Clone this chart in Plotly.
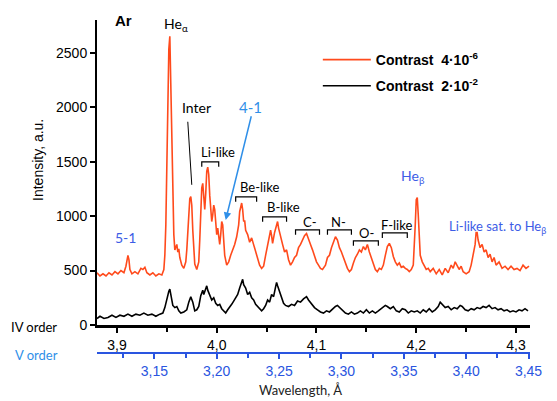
import plotly.graph_objects as go

# ---------------- data ----------------
# Wavelength in Angstrom (IV order scale) and intensity (a.u.)
wl_hi = [3.880, 3.883, 3.886, 3.889, 3.892, 3.895, 3.898, 3.901, 3.904, 3.907,
         3.909, 3.910, 3.911, 3.912, 3.913, 3.915, 3.918, 3.921, 3.924, 3.926,
         3.928, 3.930, 3.933, 3.936, 3.939, 3.942, 3.945, 3.947, 3.948, 3.949,
         3.950, 3.951, 3.952, 3.953, 3.954, 3.955, 3.956, 3.957, 3.958, 3.959,
         3.960, 3.961, 3.962, 3.963, 3.965, 3.967, 3.969, 3.970, 3.971, 3.972,
         3.973, 3.974, 3.975, 3.976, 3.977, 3.978, 3.980, 3.982, 3.983, 3.984,
         3.985, 3.986, 3.987, 3.988, 3.989, 3.990, 3.991, 3.992, 3.993, 3.994,
         3.995, 3.996, 3.997, 3.998, 3.999, 4.000, 4.001, 4.002, 4.003, 4.004,
         4.005, 4.006, 4.007, 4.008, 4.010, 4.012, 4.014, 4.016, 4.018, 4.020,
         4.022, 4.023, 4.024, 4.025, 4.026, 4.027, 4.028, 4.029, 4.031, 4.033,
         4.035, 4.037, 4.039, 4.041, 4.043, 4.045, 4.047, 4.049, 4.051, 4.053,
         4.054, 4.055, 4.056, 4.058, 4.060, 4.061, 4.062, 4.064, 4.066, 4.068,
         4.070, 4.072, 4.074, 4.076, 4.078, 4.080, 4.082, 4.084, 4.086, 4.088,
         4.090, 4.092, 4.094, 4.096, 4.098, 4.100, 4.102, 4.104, 4.106, 4.109,
         4.111, 4.113, 4.115, 4.117, 4.119, 4.121, 4.123, 4.125, 4.127, 4.129,
         4.131, 4.133, 4.135, 4.137, 4.139, 4.141, 4.143, 4.145, 4.147, 4.149,
         4.151, 4.153, 4.155, 4.157, 4.159, 4.161, 4.163, 4.165, 4.167, 4.169,
         4.171, 4.173, 4.175, 4.177, 4.179, 4.181, 4.183, 4.185, 4.187, 4.189,
         4.191, 4.193, 4.195, 4.197, 4.198, 4.199, 4.200, 4.201, 4.202, 4.203,
         4.204, 4.206, 4.208, 4.210, 4.212, 4.214, 4.217, 4.220, 4.223, 4.226,
         4.229, 4.232, 4.235, 4.237, 4.239, 4.241, 4.243, 4.245, 4.247, 4.250,
         4.253, 4.255, 4.257, 4.259, 4.260, 4.261, 4.262, 4.264, 4.266, 4.268,
         4.270, 4.272, 4.274, 4.276, 4.278, 4.280, 4.283, 4.286, 4.289, 4.292,
         4.295, 4.298, 4.301, 4.304, 4.307, 4.310, 4.313]
int_hi = [480, 450, 470, 450, 480, 460, 490, 470, 500, 480,
          540, 620, 640, 600, 510, 470, 490, 470, 520, 510,
          530, 480, 460, 480, 450, 470, 460, 510, 640, 920,
          1420, 2070, 2530, 2650, 2160, 1700, 1150, 830, 690, 720,
          740, 670, 700, 620, 550, 520, 580, 690, 850, 1060,
          1160, 1180, 1100, 870, 670, 560, 510, 580, 780, 1100,
          1260, 1300, 1190, 1060, 1210, 1410, 1450, 1380, 1190, 1010,
          950, 1010, 1100, 1060, 890, 830, 890, 780, 740, 830,
          950, 920, 780, 640, 550, 580, 640, 690, 740, 810,
          920, 1040, 1100, 1120, 1060, 950, 960, 870, 830, 760,
          800, 740, 670, 620, 550, 520, 540, 640, 730, 800,
          870, 820, 750, 850, 920, 950, 890, 800, 740, 670,
          690, 600, 550, 580, 620, 640, 710, 740, 780, 820,
          840, 780, 740, 690, 640, 580, 550, 520, 510, 550,
          620, 640, 710, 760, 810, 780, 710, 670, 620, 570,
          520, 490, 510, 570, 620, 650, 690, 670, 720, 690,
          740, 670, 620, 570, 510, 490, 520, 510, 550, 640,
          720, 750, 710, 630, 580, 550, 570, 530, 540, 520,
          510, 490, 510, 550, 690, 920, 1150, 1170, 1010, 780,
          640, 580, 540, 510, 520, 490, 520, 470, 510, 460,
          520, 480, 550, 520, 580, 540, 510, 540, 490, 470,
          490, 550, 640, 740, 850, 850, 780, 710, 740, 670,
          690, 620, 650, 580, 620, 550, 580, 520, 540, 510,
          540, 510, 520, 500, 550, 520, 540]

wl_lo = [3.880, 3.883, 3.887, 3.891, 3.895, 3.899, 3.903, 3.907, 3.911, 3.915,
         3.919, 3.923, 3.927, 3.931, 3.935, 3.939, 3.943, 3.946, 3.948, 3.950,
         3.952, 3.953, 3.954, 3.956, 3.958, 3.960, 3.962, 3.964, 3.967, 3.970,
         3.972, 3.974, 3.976, 3.978, 3.980, 3.982, 3.984, 3.986, 3.987, 3.989,
         3.990, 3.991, 3.993, 3.995, 3.997, 3.999, 4.001, 4.003, 4.005, 4.007,
         4.009, 4.011, 4.013, 4.015, 4.017, 4.019, 4.021, 4.023, 4.025, 4.026,
         4.027, 4.029, 4.031, 4.033, 4.035, 4.037, 4.039, 4.041, 4.043, 4.045,
         4.047, 4.049, 4.051, 4.053, 4.055, 4.057, 4.059, 4.060, 4.061, 4.063,
         4.065, 4.067, 4.069, 4.072, 4.075, 4.078, 4.081, 4.084, 4.087, 4.090,
         4.092, 4.095, 4.098, 4.101, 4.104, 4.107, 4.110, 4.113, 4.116, 4.119,
         4.121, 4.123, 4.126, 4.129, 4.132, 4.135, 4.138, 4.141, 4.144, 4.147,
         4.150, 4.153, 4.156, 4.159, 4.162, 4.166, 4.169, 4.171, 4.174, 4.177,
         4.180, 4.183, 4.186, 4.189, 4.192, 4.195, 4.198, 4.201, 4.204, 4.207,
         4.210, 4.213, 4.216, 4.219, 4.222, 4.224, 4.226, 4.229, 4.232, 4.235,
         4.238, 4.241, 4.244, 4.246, 4.249, 4.252, 4.255, 4.258, 4.261, 4.264,
         4.267, 4.270, 4.273, 4.276, 4.279, 4.282, 4.285, 4.288, 4.291, 4.294,
         4.297, 4.300, 4.303, 4.306, 4.309, 4.312]
int_lo = [60, 80, 60, 70, 90, 70, 90, 80, 100, 80,
          100, 90, 110, 90, 100, 80, 100, 110, 160, 250,
          310, 330, 280, 180, 160, 170, 130, 110, 120, 140,
          210, 260, 210, 130, 140, 170, 270, 320, 280, 340,
          360, 320, 270, 230, 250, 200, 180, 190, 150, 130,
          110, 140, 160, 190, 220, 250, 280, 340, 400, 420,
          370, 340, 280, 300, 250, 230, 190, 170, 150, 130,
          150, 180, 230, 210, 280, 260, 350, 390, 360, 310,
          250, 200, 180, 170, 190, 180, 220, 210, 240, 260,
          230, 190, 160, 140, 120, 110, 130, 120, 150, 170,
          180, 160, 130, 110, 100, 120, 100, 110, 130, 110,
          140, 110, 130, 110, 130, 160, 180, 170, 150, 170,
          130, 120, 150, 140, 110, 130, 120, 130, 110, 140,
          120, 150, 120, 140, 170, 210, 190, 160, 170, 140,
          160, 150, 180, 170, 140, 130, 150, 140, 160, 150,
          170, 160, 180, 150, 160, 140, 150, 130, 140, 120,
          130, 120, 140, 130, 150, 130]

series_names = ["<b>Contrast\u00a0\u00a04\u00b710<sup>-6</sup></b>",
                "<b>Contrast\u00a0\u00a02\u00b710<sup>-2</sup></b>"]

iv_ticks = [3.9, 4.0, 4.1, 4.2, 4.3]
iv_labels = ["3,9", "4,0", "4,1", "4,2", "4,3"]
iv_minor = [3.95, 4.05, 4.15, 4.25]
v_ticks = [3.15, 3.20, 3.25, 3.30, 3.35, 3.40, 3.45]
v_labels = ["3,15", "3,20", "3,25", "3,30", "3,35", "3,40", "3,45"]
v_minor = [3.125, 3.175, 3.225, 3.275, 3.325, 3.375, 3.425]
y_ticks = [0, 500, 1000, 1500, 2000, 2500]
y_labels = ["0", "500", "1000", "1500", "2000", "2500"]
V_OVER_IV = 0.8   # V-order wavelength = 4/5 of IV-order wavelength

# ---------------- styling ----------------
ORANGE = "#ff4a1c"
BLUE = "#3d5ce6"
AXBLUE = "#2a55e0"
LIGHTBLUE = "#2f8fe8"
ARIAL = "Liberation Sans, Arial, sans-serif"
LABEL = "Lato, Open Sans, sans-serif"
IV_RANGE = [3.88, 4.314]
V_RANGE = [IV_RANGE[0] * V_OVER_IV, IV_RANGE[1] * V_OVER_IV]

fig = go.Figure()
fig.add_trace(go.Scatter(x=wl_hi, y=int_hi, mode="lines", name=series_names[0],
                         legendgroup="a", line=dict(color=ORANGE, width=1.6)))
fig.add_trace(go.Scatter(x=wl_lo, y=int_lo, mode="lines", name=series_names[1],
                         legendgroup="b", line=dict(color="black", width=1.6)))
# same spectrum on the V-order scale (invisible) so the second axis is drawn
fig.add_trace(go.Scatter(x=[w * V_OVER_IV for w in wl_hi], y=int_hi, mode="lines",
                         xaxis="x2", opacity=0, showlegend=False, hoverinfo="skip",
                         line=dict(color=ORANGE, width=1)))

# ---------------- annotations ----------------
ann = []
def txt(x, y, s, size=13, color="black", family=LABEL, xref="x", yref="y", angle=0):
    ann.append(dict(x=x, y=y, xref=xref, yref=yref, text=s, showarrow=False,
                    xanchor="center", yanchor="middle", textangle=angle,
                    font=dict(family=family, size=size, color=color)))

txt(3.907, 2800, "<b>Ar</b>", size=15, family=ARIAL)
txt(3.959, 2757, "He<sub>\u03b1</sub>", size=14)
txt(3.980, 1994, "Inter", size=14)
txt(4.001, 1590, "Li-like", size=13)
txt(4.034, 2003, "4-1", size=15, color=LIGHTBLUE)
txt(4.043, 1268, "Be-like", size=13)
txt(4.067, 1084, "B-like", size=13)
txt(4.093, 947, "C-", size=13)
txt(4.122, 947, "N-", size=13)
txt(4.150, 845, "O-", size=13)
txt(4.180, 919, "F-like", size=13)
txt(4.197, 1360, "He<sub>\u03b2</sub>", size=14, color=BLUE)
txt(4.281, 900, "Li-like sat. to He<sub>\u03b2</sub>", size=13, color=BLUE)
txt(3.909, 800, "5-1", size=14, color=BLUE)

# axis side labels (paper coords)
txt(-0.136, 0.58, "Intensity, a.u.", size=14, family=ARIAL, xref="paper", yref="paper", angle=-90)
txt(-0.1455, 0.078, "IV order", size=13, xref="paper", yref="paper")
txt(-0.1386, -0.006, "V order", size=13, color=LIGHTBLUE, xref="paper", yref="paper")
txt(0.469, -0.111, "Wavelength, \u00c5", size=13, color="#222222", xref="paper", yref="paper")

# 4-1 arrow
ann.append(dict(x=4.009, y=965, ax=4.035, ay=1930, xref="x", yref="y", axref="x", ayref="y",
                text="", showarrow=True, arrowhead=2, arrowsize=1, arrowwidth=1.5,
                arrowcolor=LIGHTBLUE))

# ---------------- shapes: Inter pointer and group brackets ----------------
shapes = [dict(type="line", xref="x", yref="y", x0=3.971, y0=1866, x1=3.975, y1=1287,
               line=dict(color="black", width=1))]
brackets = [(3.985, 4.002, 1498), (4.019, 4.040, 1176), (4.046, 4.070, 993),
            (4.079, 4.103, 873), (4.111, 4.135, 873), (4.137, 4.162, 772),
            (4.166, 4.191, 845)]
drop = 45
for x0, x1, yb in brackets:
    shapes.append(dict(type="path", xref="x", yref="y",
                       path=f"M {x0},{yb - drop} L {x0},{yb} L {x1},{yb} L {x1},{yb - drop}",
                       line=dict(color="black", width=1.2)))

fig.update_layout(
    width=549, height=393,
    margin=dict(l=89, r=27, t=12, b=48),
    paper_bgcolor="white", plot_bgcolor="white",
    showlegend=True,
    annotations=ann, shapes=shapes,
    xaxis=dict(range=IV_RANGE, tickmode="array", tickvals=iv_ticks, ticktext=iv_labels,
               ticks="outside", ticklen=5, tickwidth=2, tickcolor="black",
               showline=True, linewidth=3, linecolor="black",
               showgrid=False, zeroline=False,
               tickfont=dict(family=ARIAL, size=14, color="black"),
               minor=dict(ticks="outside", ticklen=4, tickwidth=2, tickcolor="black",
                          tickmode="array", tickvals=iv_minor, showgrid=False)),
    xaxis2=dict(range=V_RANGE, overlaying="x", anchor="free", position=0, side="bottom",
                tickmode="array", tickvals=v_ticks, ticktext=v_labels,
                ticks="outside", ticklen=5, tickwidth=2, tickcolor=AXBLUE,
                showline=True, linewidth=2, linecolor=AXBLUE,
                showgrid=False, zeroline=False,
                tickfont=dict(family=ARIAL, size=14, color=AXBLUE),
                minor=dict(ticks="outside", ticklen=4, tickwidth=2, tickcolor=AXBLUE,
                           tickmode="array", tickvals=v_minor, showgrid=False)),
    yaxis=dict(domain=[0.084, 1], range=[0, 2800], tickmode="array",
               tickvals=y_ticks, ticktext=y_labels,
               ticks="outside", ticklen=5, tickwidth=2, tickcolor="black",
               showline=True, linewidth=2, linecolor="black",
               showgrid=False, zeroline=False,
               tickfont=dict(family=ARIAL, size=14, color="black")),
    legend=dict(x=0.510, y=0.928, xanchor="left", yanchor="top",
                traceorder="grouped", tracegroupgap=5, itemwidth=48,
                bgcolor="rgba(0,0,0,0)",
                font=dict(family=ARIAL, size=14, color="black")),
)

fig.write_html("out.html")
